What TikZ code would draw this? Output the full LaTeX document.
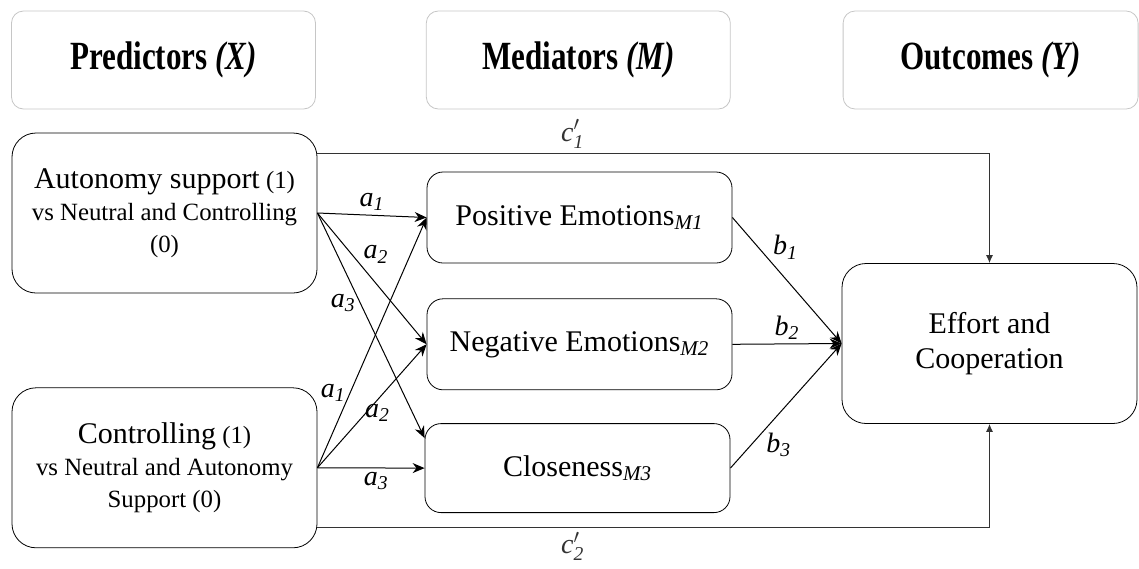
\documentclass[tikz,border=0pt]{standalone}
\usepackage{fontspec}
\setmainfont{LiberationSerif}[Extension=.ttf, UprightFont=*-Regular, BoldFont=*-Bold,
  ItalicFont=*-Italic, BoldItalicFont=*-BoldItalic]
\usetikzlibrary{positioning, arrows.meta}

\newcommand{\bigtxt}{\fontsize{15}{16}\selectfont}
\newcommand{\headtxt}[1]{\scalebox{0.97}[1.25]{#1}}
\newcommand{\pth}[2]{$\mathit{#1}_{\mathit{#2}}$}
\newcommand{\dirpth}[1]{$\mathit{c}'_{\mathit{#1}}$}

\begin{document}
\begin{tikzpicture}[x=0.5pt, y=-0.5pt,
        head/.style={draw=gray!45, rounded corners=6pt, minimum width=152pt,
                     minimum height=49pt, font=\fontsize{16}{19}\selectfont\bfseries},
        box/.style={draw, rounded corners=12pt, minimum width=152.5pt, minimum height=80pt,
                    align=center, font=\fontsize{12.4}{16}\selectfont},
        med/.style={draw, rounded corners=8pt, minimum width=152.5pt, minimum height=45.5pt,
                    font=\bigtxt},
        arr/.style={-{Stealth[length=6pt, width=5pt]}, line width=0.5pt},
        direct/.style={-{Latex[length=4pt, width=3.5pt]}, line width=0.5pt, black!80},
        lab/.style={font=\fontsize{14}{16}\selectfont, inner sep=2pt}]
    \useasboundingbox (0,0) rectangle (1139,568);

    % column headers
    \node[head] (X) at (163.5,60) {\headtxt{Predictors \textit{(X)}}};
    \node[head, right=55pt of X] (M) {\headtxt{Mediators \textit{(M)}}};
    \node[head, right=56pt of M, minimum width=147.5pt] (Y) {\headtxt{Outcomes \textit{(Y)}}};

    % predictors
    \node[box] (AS) at (164.5,213) {{\bigtxt Autonomy support} (1)\\ vs Neutral and Controlling\\ (0)};
    \node[box, below=47pt of AS] (CT) {{\bigtxt Controlling} (1)\\ vs Neutral and Autonomy\\ Support (0)};

    % mediators
    \node[med] (PE) at (579.5,217.5) {Positive Emotions\textsubscript{\textit{M1}}};
    \node[med, below=17.5pt of PE] (NE) {Negative Emotions\textsubscript{\textit{M2}}};
    \node[med, below=16.5pt of NE, xshift=-1pt, minimum height=44.5pt] (CL) {Closeness\textsubscript{\textit{M3}}};

    % outcome
    \node[box, minimum width=147.5pt, align=center, font=\fontsize{15}{17.5}\selectfont] (EC) at (989.5,343.5) {Effort and\\ Cooperation};

    % a paths
    \draw[arr] (AS.east) -- node[lab, above, pos=.5] (a1x) {\pth{a}{1}} (PE.west);
    \draw[arr] (AS.east) -- node[lab, above right, pos=.4, inner sep=1pt] (a2x) {\pth{a}{2}} (NE.west);
    \draw[arr] (AS.east) -- node[lab, left, pos=.4] (a3x) {\pth{a}{3}} ([yshift=15pt]CL.west);
    \draw[arr] (CT.east) -- node[lab, left, pos=.3] (a1c) {\pth{a}{1}} (PE.west);
    \draw[arr] (CT.east) -- node[lab, below, pos=.55] (a2c) {\pth{a}{2}} (NE.west);
    \draw[arr] (CT.east) -- node[lab, below, pos=.55] (a3c) {\pth{a}{3}} (CL.west);

    % b paths
    \draw[arr] (PE.east) -- node[lab, above right, pos=.35, inner sep=1pt] (b1) {\pth{b}{1}} (EC.west);
    \draw[arr] (NE.east) -- node[lab, above, pos=.5] (b2) {\pth{b}{2}} (EC.west);
    \draw[arr] (CL.east) -- node[lab, below right, pos=.3, inner sep=1pt] (b3) {\pth{b}{3}} (EC.west);

    % direct paths
    \draw[direct] ([yshift=30pt]AS.east) -| node[lab, above, pos=.19] (c1) {\dirpth{1}} (EC.north);
    \draw[direct] ([yshift=-30pt]CT.east) -| node[lab, below, pos=.19] (c2) {\dirpth{2}} (EC.south);
\end{tikzpicture}
\end{document}
